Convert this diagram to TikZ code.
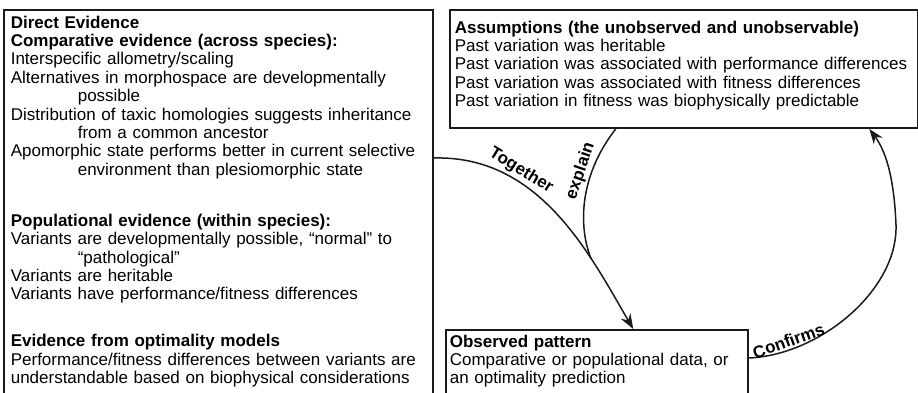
\documentclass[tikz,border=0pt]{standalone}
\usepackage{fontspec}
\setmainfont{Liberation Sans}
\usetikzlibrary{arrows.meta,calc}
\definecolor{evoBorder}{HTML}{1A1A1A}

\begin{document}
\begin{tikzpicture}[
        x=1pt, y=-1pt,
        box/.style={
            draw=evoBorder,
            line width=1.6pt,
            align=left,
            anchor=north west,
            inner ysep=6pt,
            font=\fontsize{17}{18.4}\selectfont
        },
        arrow/.style={
            -{Stealth[length=15pt,width=11pt]},
            line width=1.5pt,
            draw=evoBorder
        },
        curvelabel/.style={
            font=\fontsize{17}{18.4}\selectfont\bfseries,
            sloped,
            inner sep=2pt
        }
    ]

    \useasboundingbox (0,0) rectangle (918,392);
    \clip (0,0) rectangle (918,392);

    \node[box, text width=415pt, inner xsep=7pt] (direct) at (3,9)
        {\textbf{Direct Evidence}\\
         \textbf{Comparative evidence (across species):}\\
         Interspecific allometry/scaling\\
         Alternatives in morphospace are developmentally\\
         \hspace*{67pt}possible\\
         Distribution of taxic homologies suggests inheritance\\
         \hspace*{67pt}from a common ancestor\\
         Apomorphic state performs better in current selective\\
         \hspace*{67pt}environment than plesiomorphic state\\[32.6pt]
         \textbf{Populational evidence (within species):}\\
         Variants are developmentally possible, “normal” to\\
         \hspace*{67pt}“pathological”\\
         Variants are heritable\\
         Variants have performance/fitness differences\\[28.6pt]
         \textbf{Evidence from optimality models}\\
         Performance/fitness differences between variants are\\
         understandable based on biophysical considerations\\[20pt]
         \mbox{}};

    \node[box, text width=458pt, inner xsep=5pt, inner ysep=11pt] (assume) at (449,9)
        {\textbf{Assumptions (the unobserved and unobservable)}\\
         Past variation was heritable\\
         Past variation was associated with performance differences\\
         Past variation was associated with fitness differences\\
         Past variation in fitness was biophysically predictable\\[-8pt]
         \mbox{}};

    \node[box, text width=294pt, inner xsep=4pt, inner ysep=5pt] (observed) at (445,329)
        {\textbf{Observed pattern}\\
         Comparative or populational data, or\\
         an optimality prediction\\[20pt]
         \mbox{}};

    \draw[arrow]
        ([yshift=-149pt]direct.north east)
        .. controls (540,155) and (590,255) ..
        ($(observed.north west)!0.62!(observed.north east)$)
        coordinate[pos=0.7] (merge)
        node[curvelabel, pos=0.3, above] {Together};

    \draw[line width=1.5pt, draw=evoBorder]
        (merge)
        .. controls (580,232) and (576,180) ..
        ($(assume.south west)!0.355!(assume.south east)$)
        node[curvelabel, pos=0.7, above] {explain};

    \draw[arrow]
        ([yshift=-29pt]observed.north east)
        .. controls (820,355) and (898,290) .. (896,225)
        node[curvelabel, pos=0.2, above] {Confirms}
        .. controls (894,175) and (885,150) ..
        ($(assume.south west)!0.895!(assume.south east)$);

\end{tikzpicture}
\end{document}
